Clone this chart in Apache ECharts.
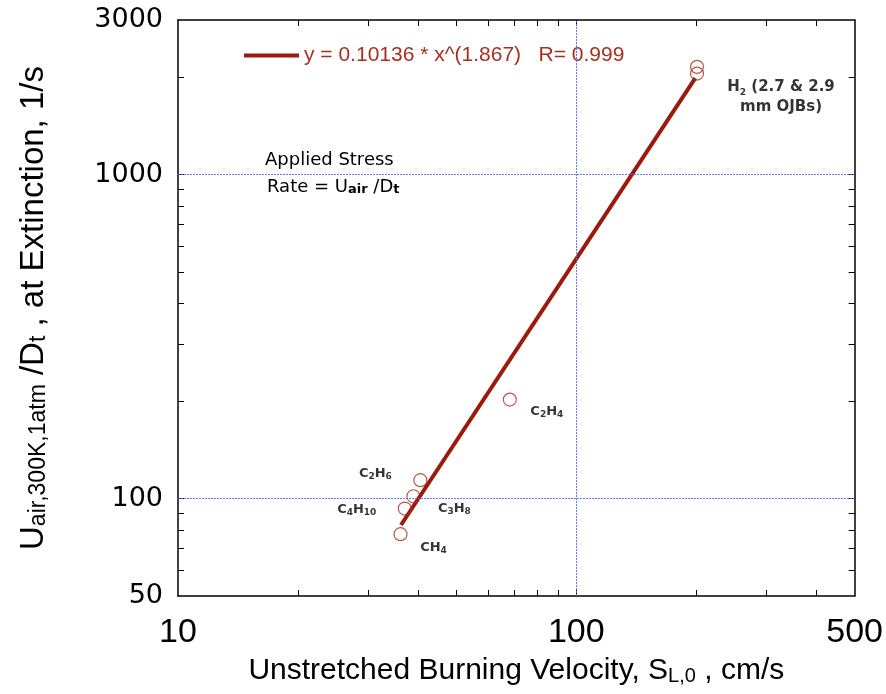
<!DOCTYPE html>
<html>
<head>
<meta charset="utf-8">
<script src="https://cdn.jsdelivr.net/npm/echarts@6/dist/echarts.min.js"></script>
<style>
  html, body { margin: 0; padding: 0; background: #ffffff; }
  #chart { width: 886px; height: 694px; }
</style>
</head>
<body>
<div id="chart"></div>
<script>
// Extinction stress rate of opposed-jet flames vs. unstretched burning velocity (log-log)
const fuels = ['CH4', 'C4H10', 'C3H8', 'C2H6', 'C2H4', 'H2', 'H2'];
const burningVelocity = [36.2, 37.1, 39.0, 40.6, 68.1, 201, 201];        // cm/s
const extinctionRate = [77.6, 93.1, 101.6, 113.9, 202, 2150, 2050];      // 1/s
const pointLabels = ['CH4', 'C4H10', 'C3H8', 'C2H6', 'C2H4', 'H2 (2.7 & 2.9\nmm OJBs)', ''];

// power-law fit y = a * x^b
const fitCoef = [0.10136, 1.867];
const fitXRange = [36.3, 199];
const fitLabel = 'y = 0.10136 * x^(1.867)   R= 0.999';

const xTickLabels = [10, 100, 500];
const yTickLabels = [50, 100, 1000, 3000];
const xTicks = [20, 30, 40, 50, 60, 70, 80, 90, 100, 200, 300, 400];
const yTicks = [60, 70, 80, 90, 100, 200, 300, 400, 500, 600, 700, 800, 900, 1000, 2000];
const gridAtX = [100];
const gridAtY = [100, 1000];

// label placement relative to each marker (pixels)
const labelOffset = {
  'CH4': [33, 13], 'C4H10': [-48, 1], 'C3H8': [41, 12],
  'C2H6': [-45, -7], 'C2H4': [37, 12], 'H2': [84, 30]
};

const RED_LINE = '#9c1a0b';
const RED_MARK = '#a8301f';
const GRID_BLUE = '#4d6bff';

// turn digits that follow an element symbol into subscripts
function chemRich(s) {
  return s.replace(/([A-Z][a-z]?)(\d+)/g, '$1{s|$2}');
}

const fitLine = fitXRange.map(x => [x, fitCoef[0] * Math.pow(x, fitCoef[1])]);

const scatterData = burningVelocity.map((x, i) => {
  const off = labelOffset[fuels[i]] || [0, 0];
  const txt = pointLabels[i];
  const isH2 = fuels[i] === 'H2';
  return {
    value: [x, extinctionRate[i]],
    label: {
      show: txt !== '',
      position: 'inside',
      offset: off,
      formatter: chemRich(txt),
      align: 'center',
      color: '#000',
      fontSize: isH2 ? 15 : 13,
      lineHeight: isH2 ? 20 : 16
    }
  };
});

const axisCommonX = {
  type: 'log',
  logBase: 10,
  min: 10,
  max: 500,
  axisLine: { onZero: false, lineStyle: { color: '#000', width: 1.5 } },
  axisTick: { show: true, inside: true, length: 6, customValues: xTicks, lineStyle: { color: '#000', width: 1 } },
  minorTick: { show: false },
  splitLine: { show: false }
};
const axisCommonY = {
  type: 'log',
  logBase: 10,
  min: 50,
  max: 3000,
  axisLine: { onZero: false, lineStyle: { color: '#000', width: 1.5 } },
  axisTick: { show: true, inside: true, length: 6, customValues: yTicks, lineStyle: { color: '#000', width: 1 } },
  minorTick: { show: false },
  splitLine: { show: false }
};

const chart = echarts.init(document.getElementById('chart'), null, { renderer: 'canvas' });

chart.setOption({
  animation: false,
  backgroundColor: '#ffffff',
  grid: { left: 178, right: 28, top: 20, bottom: 98, containLabel: false },
  legend: {
    left: 244,
    top: 45,
    padding: 0,
    itemWidth: 55,
    itemHeight: 4,
    data: [{ name: fitLabel, icon: 'rect' }],
    textStyle: { color: RED_MARK, fontSize: 21, fontFamily: 'Liberation Sans' }
  },
  xAxis: [
    Object.assign({}, axisCommonX, {
      position: 'bottom',
      axisLabel: {
        customValues: xTickLabels,
        color: '#000',
        fontSize: 34,
        fontFamily: 'Liberation Sans',
        margin: 20,
        formatter: v => String(Math.round(v))
      },
      name: 'Unstretched Burning Velocity, S{s|L,0} , cm/s',
      nameLocation: 'middle',
      nameGap: 60,
      nameTextStyle: {
        color: '#000',
        fontSize: 30,
        fontFamily: 'Liberation Sans',
        rich: {
          s: { fontSize: 20, fontFamily: 'Liberation Sans', color: '#000', verticalAlign: 'bottom', lineHeight: 14 }
        }
      }
    }),
    Object.assign({}, axisCommonX, {
      position: 'top',
      axisLabel: { show: false }
    })
  ],
  yAxis: [
    Object.assign({}, axisCommonY, {
      position: 'left',
      axisLabel: {
        customValues: yTickLabels,
        color: '#000',
        fontSize: 27,
        fontFamily: 'DejaVu Sans',
        margin: 15,
        formatter: v => String(Math.round(v))
      },
      name: 'U{s|air,300K,1atm} /D{s|t} , at Extinction, 1/s',
      nameLocation: 'middle',
      nameRotate: 90,
      nameGap: 128,
      nameTextStyle: {
        color: '#000',
        fontSize: 33,
        fontFamily: 'Liberation Sans',
        rich: {
          s: { fontSize: 23, fontFamily: 'Liberation Sans', color: '#000', verticalAlign: 'bottom', lineHeight: 15 }
        }
      }
    }),
    Object.assign({}, axisCommonY, {
      position: 'right',
      axisLabel: { show: false }
    })
  ],
  series: [
    {
      name: fitLabel,
      type: 'line',
      xAxisIndex: 0,
      yAxisIndex: 0,
      data: fitLine,
      showSymbol: false,
      symbol: 'none',
      lineStyle: { color: RED_LINE, width: 4 },
      itemStyle: { color: RED_LINE },
      z: 3,
      markLine: {
        silent: true,
        symbol: 'none',
        label: { show: false },
        lineStyle: { color: GRID_BLUE, type: [2, 1], width: 1, opacity: 0.9 },
        data: gridAtX.map(v => ({ xAxis: v })).concat(gridAtY.map(v => ({ yAxis: v })))
      }
    },
    {
      name: 'data',
      type: 'scatter',
      xAxisIndex: 0,
      yAxisIndex: 0,
      symbol: 'circle',
      symbolSize: 13,
      itemStyle: { color: 'rgba(255,255,255,0)', borderColor: RED_MARK, borderWidth: 1.2 },
      label: {
        color: '#000',
        fontFamily: 'DejaVu Sans',
        fontWeight: 'bold',
        rich: {
          s: { fontSize: 9, fontFamily: 'DejaVu Sans', fontWeight: 'bold', color: '#000', verticalAlign: 'bottom', lineHeight: 8 }
        }
      },
      emphasis: { disabled: true },
      z: 4,
      data: scatterData
    }
  ],
  graphic: [
    {
      type: 'text',
      x: 265,
      y: 160,
      style: {
        text: 'Applied Stress',
        fill: '#000',
        fontSize: 18,
        fontFamily: 'DejaVu Sans',
        verticalAlign: 'middle'
      }
    },
    {
      type: 'text',
      x: 267,
      y: 187,
      style: {
        text: 'Rate = U{s|air} /D{s|t}',
        fill: '#000',
        fontSize: 18,
        fontFamily: 'DejaVu Sans',
        verticalAlign: 'middle',
        rich: {
          s: { fontSize: 13, fontFamily: 'DejaVu Sans', fontWeight: 'bold', fill: '#000', verticalAlign: 'bottom', lineHeight: 10 }
        }
      }
    }
  ]
});
</script>
</body>
</html>
